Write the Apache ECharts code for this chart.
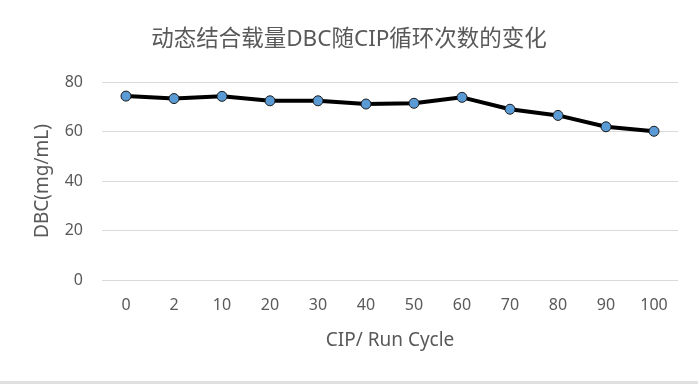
<!DOCTYPE html>
<html><head><meta charset="utf-8">
<script src="https://cdn.jsdelivr.net/npm/echarts@6/dist/echarts.min.js"></script>
<style>html,body{margin:0;padding:0;background:#fff}#c{width:698px;height:385px}</style>
</head><body><div id="c"></div>
<script>
var categories = ['0','2','10','20','30','40','50','60','70','80','90','100'];
var dbcValues = [74.3, 73.3, 74.2, 72.4, 72.4, 71.1, 71.4, 73.8, 69.0, 66.5, 61.9, 60.1];
var yTicks = {min: 0, max: 80, interval: 20};
var titleText = '动态结合载量DBC随CIP循环次数的变化';
var xName = 'CIP/ Run Cycle';
var yName = 'DBC(mg/mL)';

var chart = echarts.init(document.getElementById('c'));
var font = '"Noto Sans", "Noto Sans CJK SC", sans-serif';
chart.setOption({
  animation: false,
  textStyle: {fontFamily: font},
  title: {text: titleText, left: 'center', top: 23,
    textStyle: {fontSize: 22.5, fontWeight: 'normal', color: '#595959', fontFamily: font}},
  grid: {left: 102, right: 20, top: 82, bottom: 105},
  xAxis: {type: 'category', data: categories, boundaryGap: true,
    axisLine: {show: false}, axisTick: {show: false},
    axisLabel: {color: '#595959', fontSize: 16, margin: 17, fontFamily: font}},
  yAxis: {type: 'value', min: yTicks.min, max: yTicks.max, interval: yTicks.interval,
    name: yName, nameLocation: 'middle', nameGap: 50, nameRotate: 90,
    nameTextStyle: {color: '#595959', fontSize: 19, fontFamily: font},
    axisLabel: {color: '#595959', fontSize: 16, margin: 19, fontFamily: font},
    splitLine: {lineStyle: {color: '#d9d9d9', width: 1}}},
  graphic: [
    {type: 'text', x: 390, y: 341, style: {text: xName, fill: '#595959', fontSize: 19, fontFamily: font, align: 'center', verticalAlign: 'middle'}},
    {type: 'rect', left: 0, top: 381, shape: {width: 698, height: 3}, style: {fill: '#e0e0e0'}}
  ],
  series: [{type: 'line', data: dbcValues, symbol: 'circle', symbolSize: 10,
    lineStyle: {color: '#000', width: 4},
    itemStyle: {color: '#5b9bd5', borderColor: '#1a1a1a', borderWidth: 1}}]
});
</script></body></html>
